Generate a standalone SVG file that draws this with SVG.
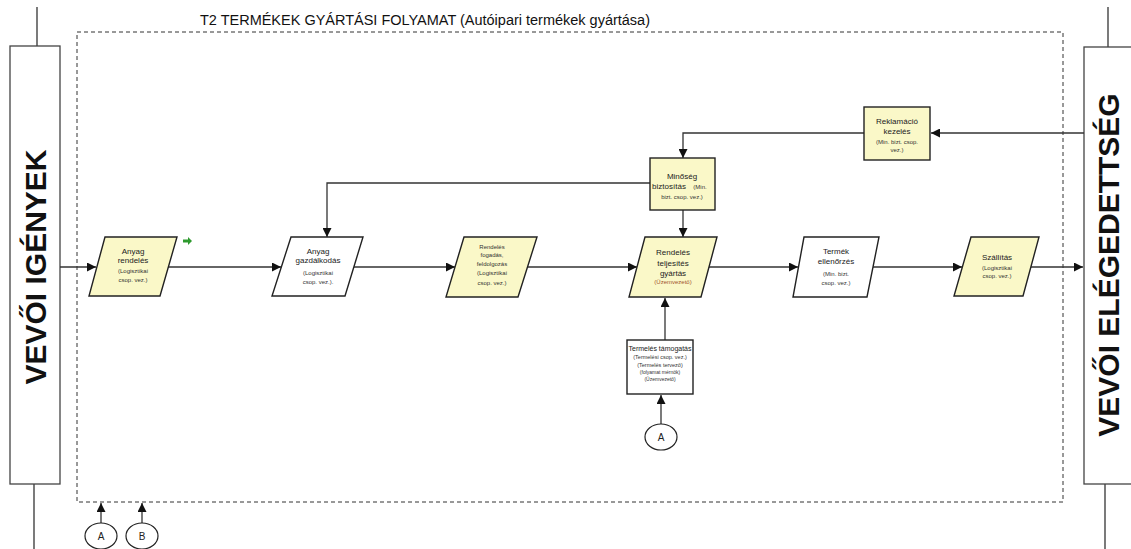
<svg xmlns="http://www.w3.org/2000/svg" width="1131" height="549" viewBox="0 0 1131 549">
  <style>
    .bar { fill: #ffffff; stroke: #444; stroke-width: 1.3; }
    .bartext { font-family: "Liberation Sans", Arial, sans-serif; font-weight: bold; font-size: 30px; fill: #111; }
    .proc { stroke: #222; stroke-width: 1.4; }
    .yel { fill: #FAF8C8; }
    .wht { fill: #ffffff; }
    .t { font-family: "Liberation Sans", Arial, sans-serif; font-size: 8px; fill: #222; text-anchor: middle; }
    .s { font-family: "Liberation Sans", Arial, sans-serif; font-size: 6px; fill: #333; text-anchor: middle; }
    .o { fill: #a0522d; }
    .wire { fill: none; stroke: #333; stroke-width: 1.3; }
    .frame { fill: none; stroke: #333; stroke-width: 1; stroke-dasharray: 4 3; }
    .conn { fill: #ffffff; stroke: #222; stroke-width: 1.2; }
    .ct { font-family: "Liberation Sans", Arial, sans-serif; font-size: 10px; fill: #222; text-anchor: middle; }
  </style>
  <defs>
    <marker id="ah" markerUnits="userSpaceOnUse" markerWidth="10" markerHeight="9" refX="9" refY="4.5" orient="auto">
      <path d="M0,0 L9,4.5 L0,9 z" fill="#111"/>
    </marker>
  </defs>

  <rect width="1131" height="549" fill="#ffffff"/>

  <!-- process frame -->
  <rect class="frame" x="77" y="32" width="986" height="470"/>
  <text x="200" y="25" font-family="Liberation Sans, Arial, sans-serif" font-size="14" fill="#111" textLength="450" lengthAdjust="spacingAndGlyphs">T2 TERMÉKEK GYÁRTÁSI FOLYAMAT (Autóipari termékek gyártása)</text>

  <!-- side bars -->
  <g id="vevoi-igenyek">
    <line class="wire" x1="37" y1="7" x2="37" y2="46"/>
    <line class="wire" x1="34" y1="484" x2="34" y2="549"/>
    <rect class="bar" x="10" y="46" width="50" height="438"/>
    <text class="bartext" transform="translate(46,267) rotate(-90)" text-anchor="middle">VEVŐI IGÉNYEK</text>
  </g>
  <g id="vevoi-elegedettseg">
    <line class="wire" x1="1108" y1="7" x2="1108" y2="47"/>
    <line class="wire" x1="1105" y1="484" x2="1105" y2="549"/>
    <rect class="bar" x="1084" y="47" width="60" height="437"/>
    <text class="bartext" transform="translate(1119,265) rotate(-90)" text-anchor="middle">VEVŐI ELÉGEDETTSÉG</text>
  </g>

  <!-- connectors -->
  <g id="connectors">
    <line class="wire" x1="60" y1="267" x2="96" y2="267" marker-end="url(#ah)"/>
    <line class="wire" x1="168" y1="267" x2="281" y2="267" marker-end="url(#ah)"/>
    <line class="wire" x1="354" y1="267" x2="455" y2="267" marker-end="url(#ah)"/>
    <line class="wire" x1="527" y1="267" x2="637" y2="267" marker-end="url(#ah)"/>
    <line class="wire" x1="709" y1="267" x2="798" y2="267" marker-end="url(#ah)"/>
    <line class="wire" x1="873" y1="267" x2="962" y2="267" marker-end="url(#ah)"/>
    <line class="wire" x1="1031" y1="267" x2="1083" y2="267" marker-end="url(#ah)"/>
    <line class="wire" x1="1084" y1="133" x2="931" y2="133" marker-end="url(#ah)"/>
    <polyline class="wire" points="864,133 683,133 683,158" marker-end="url(#ah)"/>
    <polyline class="wire" points="650,183 327,183 327,237" marker-end="url(#ah)"/>
    <line class="wire" x1="683" y1="210" x2="683" y2="237" marker-end="url(#ah)"/>
    <line class="wire" x1="665" y1="340" x2="665" y2="298" marker-end="url(#ah)"/>
    <line class="wire" x1="661" y1="424" x2="661" y2="395" marker-end="url(#ah)"/>
    <line class="wire" x1="101" y1="523" x2="101" y2="503" marker-end="url(#ah)"/>
    <line class="wire" x1="142" y1="523" x2="142" y2="503" marker-end="url(#ah)"/>
  </g>

  <!-- process steps -->
  <g id="anyag-rendeles">
    <polygon class="proc yel" points="105,237 177,237 160,296 89,296"/>
    <text class="t" x="133" y="254">Anyag</text>
    <text class="t" x="133" y="263">rendelés</text>
    <text class="s" x="133" y="273">(Logisztikai</text>
    <text class="s" x="133" y="282">csop. vez.)</text>
    <path d="M183,239.5 L188,239.5 L188,237 L192,241 L188,245 L188,242.5 L183,242.5 z" fill="#2e9a2e"/>
  </g>

  <g id="anyag-gazdalkodas">
    <polygon class="proc wht" points="291,237 363,237 345,296 272,296"/>
    <text class="t" x="318" y="254">Anyag</text>
    <text class="t" x="318" y="263">gazdálkodás</text>
    <text class="s" x="318" y="275">(Logisztikai</text>
    <text class="s" x="318" y="284">csop. vez.).</text>
  </g>

  <g id="rendeles-fogadas">
    <polygon class="proc yel" points="464,237 537,237 518,297 446,297"/>
    <text class="s" x="492" y="249">Rendelés</text>
    <text class="s" x="492" y="257">fogadás,</text>
    <text class="s" x="492" y="266">feldolgozás</text>
    <text class="s" x="492" y="275">(Logisztikai</text>
    <text class="s" x="492" y="285">csop. vez.)</text>
  </g>

  <g id="rendeles-teljesites">
    <polygon class="proc yel" points="645,237 717,237 701,297 629,297"/>
    <text class="t" x="673" y="255">Rendelés</text>
    <text class="t" x="673" y="266">teljesítés</text>
    <text class="t" x="673" y="276">gyártás</text>
    <text class="s o" x="673" y="284">(Üzemvezető)</text>
  </g>

  <g id="termek-ellenorzes">
    <polygon class="proc wht" points="804,237 879,237 867,297 793,297"/>
    <text class="t" x="836" y="254">Termék</text>
    <text class="t" x="836" y="264">ellenőrzés</text>
    <text class="s" x="836" y="276">(Min. bizt.</text>
    <text class="s" x="836" y="285">csop. vez.)</text>
  </g>

  <g id="szallitas">
    <polygon class="proc yel" points="971,237 1039,237 1023,296 954,296"/>
    <text class="t" x="997" y="260">Szállítás</text>
    <text class="s" x="997" y="270">(Logisztikai</text>
    <text class="s" x="997" y="278">csop. vez.)</text>
  </g>

  <g id="reklamacio-kezeles">
    <rect class="proc yel" x="864" y="107" width="66" height="53"/>
    <text class="t" x="897" y="124">Reklamáció</text>
    <text class="t" x="897" y="134">kezelés</text>
    <text class="s" x="897" y="144">(Min. bizt. csop.</text>
    <text class="s" x="897" y="152">vez.)</text>
  </g>

  <g id="minoseg-biztositas">
    <rect class="proc yel" x="650" y="158" width="65" height="52"/>
    <text class="t" x="682" y="179">Minőség</text>
    <text class="t" x="669" y="189">biztosítás</text>
    <text class="s" x="700" y="189">(Min.</text>
    <text class="s" x="682" y="199">bizt. csop. vez.)</text>
  </g>

  <g id="termeles-tamogatas">
    <rect class="proc wht" x="627" y="340" width="66" height="54"/>
    <text class="t" x="660" y="351" style="font-size:7px">Termelés támogatás</text>
    <text class="s" x="660" y="359" style="font-size:5.5px">(Termelési csop. vez.)</text>
    <text class="s" x="660" y="367" style="font-size:5.5px">(Termelés tervező)</text>
    <text class="s" x="660" y="374" style="font-size:5px">(folyamat mérnök)</text>
    <text class="s" x="660" y="381" style="font-size:5px">(Üzemvezető)</text>
  </g>

  <!-- off-page connectors -->
  <g id="conn-a-mid">
    <ellipse class="conn" cx="661" cy="437" rx="16" ry="13"/>
    <text class="ct" x="661" y="441">A</text>
  </g>
  <g id="conn-a">
    <ellipse class="conn" cx="101" cy="536" rx="16" ry="13"/>
    <text class="ct" x="101" y="540">A</text>
  </g>
  <g id="conn-b">
    <ellipse class="conn" cx="142" cy="536" rx="16" ry="13"/>
    <text class="ct" x="142" y="540">B</text>
  </g>
</svg>
